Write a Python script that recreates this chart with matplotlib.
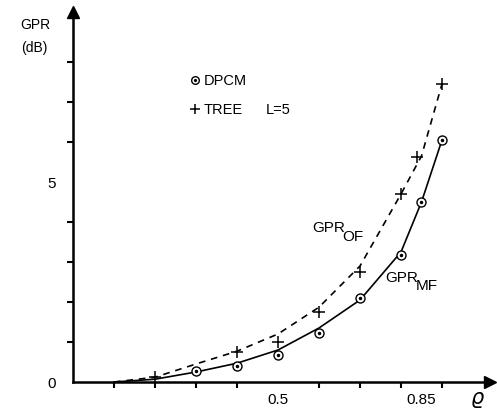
import matplotlib
matplotlib.use("Agg")
import matplotlib.pyplot as plt

# data
mf_x = [0.1, 0.2, 0.3, 0.4, 0.5, 0.6, 0.7, 0.8, 0.85, 0.9]
mf_y = [0.0, 0.07, 0.25, 0.47, 0.8, 1.35, 2.05, 3.25, 4.5, 6.05]
of_x = [0.1, 0.2, 0.3, 0.4, 0.5, 0.6, 0.7, 0.8, 0.85, 0.9]
of_y = [0.0, 0.12, 0.45, 0.77, 1.2, 1.87, 2.9, 4.7, 5.65, 7.45]
dpcm_x = [0.3, 0.4, 0.5, 0.6, 0.7, 0.8, 0.85, 0.9]
dpcm_y = [0.27, 0.4, 0.68, 1.22, 2.1, 3.17, 4.5, 6.05]
tree_x = [0.2, 0.4, 0.5, 0.6, 0.7, 0.8, 0.84, 0.9]
tree_y = [0.12, 0.75, 1.0, 1.75, 2.75, 4.7, 5.62, 7.45]
xtick_minor = [0.1, 0.2, 0.3, 0.4, 0.5, 0.6, 0.7, 0.8, 0.9]
xtick_labels = {0.5: "0.5", 0.85: "0.85"}
ytick_minor = [1, 2, 3, 4, 5, 6, 7, 8]
ytick_labels = {0: "0", 5: "5"}

plt.rcParams['font.family'] = ['Liberation Sans', 'DejaVu Sans']

fig = plt.figure(figsize=(4.97, 4.10), dpi=100)
ax = fig.add_axes([73/497, 27/410, (490-73)/497, (383-13)/410])
ax.set_xlim(0, (490-73)/410)
ax.set_ylim(0, (383-13)/40)

for s in ['top', 'right']:
    ax.spines[s].set_visible(False)
for s in ['left', 'bottom']:
    ax.spines[s].set_linewidth(1.8)

ax.set_xticks(list(xtick_labels.keys()))
ax.set_xticklabels(list(xtick_labels.values()), fontsize=11)
ax.set_xticks(xtick_minor, minor=True)
ax.set_yticks(list(ytick_labels.keys()))
ax.set_yticklabels(list(ytick_labels.values()), fontsize=11)
ax.set_yticks(ytick_minor, minor=True)
ax.tick_params(axis='x', which='major', length=0, pad=7)
ax.tick_params(axis='y', which='major', length=0, pad=12)
ax.tick_params(which='minor', length=4, width=1.5, direction='out')

# arrows
ax.plot(1, 0, marker='>', color='k', markersize=8, transform=ax.transAxes, clip_on=False)
ax.plot(0, 1, marker='^', color='k', markersize=8, transform=ax.transAxes, clip_on=False)

ax.plot(mf_x, mf_y, '-', color='k', lw=1.2)
ax.plot(of_x, of_y, '--', color='k', lw=1.2, dashes=(4, 3.5))
ax.plot(dpcm_x, dpcm_y, 'o', mfc='white', mec='k', mew=1.0, ms=6.5, ls='none')
ax.plot(dpcm_x, dpcm_y, 'o', color='k', ms=1.5, ls='none')
ax.plot(tree_x, tree_y, '+', color='k', mew=1.1, ms=8, ls='none')

# legend
ax.plot([0.297], [7.55], 'o', mfc='white', mec='k', mew=1.0, ms=5.5)
ax.plot([0.297], [7.55], 'o', color='k', ms=1.3)
ax.text(0.318, 7.55, "DPCM", fontsize=10.5, va='center', ha='left')
ax.plot([0.297], [6.83], '+', color='k', mew=1.1, ms=7)
ax.text(0.318, 6.83, "TREE", fontsize=10.5, va='center', ha='left')
ax.text(0.47, 6.83, "L=5", fontsize=10.5, va='center', ha='left')

# curve labels
ax.text(0.583, 3.88, "GPR", fontsize=11, va='center', ha='left')
ax.text(0.657, 3.66, "OF", fontsize=11, va='center', ha='left')
ax.text(0.762, 2.63, "GPR", fontsize=11, va='center', ha='left')
ax.text(0.836, 2.43, "MF", fontsize=11, va='center', ha='left')

# axis labels
fig.text(35/497, 1-25/410, "GPR", fontsize=10, ha='center', va='center')
fig.text(34/497, 1-48/410, "(dB)", fontsize=10, ha='center', va='center')
fig.text(478/497, 1-400/410, r"$\varrho$", fontsize=15, ha='center', va='center')

fig.savefig("out.png", dpi=100)
